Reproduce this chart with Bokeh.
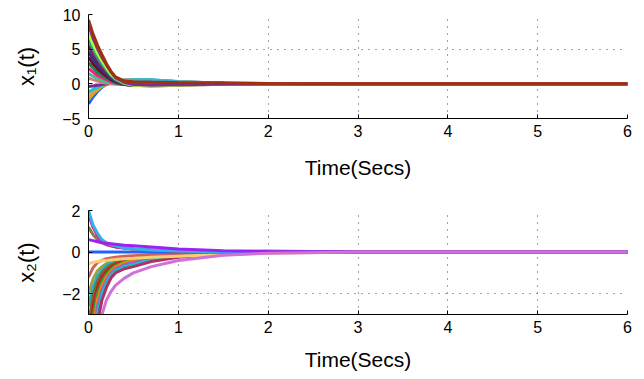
from bokeh.plotting import figure
from bokeh.layouts import column
from bokeh.models import Range1d, FixedTicker
from bokeh.embed import file_html
from bokeh.resources import INLINE

# time samples (s)
t = [0, 0.05, 0.1, 0.15, 0.2, 0.25, 0.3, 0.4, 0.5, 0.7, 1.0, 1.5, 2.0, 3.0, 6.0]

# x1(t) trajectories
x1_blue   = [-2.9, -1.9, -1.1, -0.5, -0.1, 0.15, 0.35, 0.55, 0.6, 0.55, 0.35, 0.1, 0.05, 0, 0]
x1_ochre  = [-2.3, -1.5, -0.9, -0.4, -0.1, 0.15, 0.3, 0.5, 0.55, 0.5, 0.3, 0.1, 0.05, 0, 0]
x1_orange = [-1.8, -1.2, -0.7, -0.3, 0.0, 0.2, 0.35, 0.5, 0.55, 0.5, 0.3, 0.1, 0.05, 0, 0]
x1_cyan   = [-1.2, -0.8, -0.5, -0.2, 0.0, 0.2, 0.3, 0.45, 0.6, 0.6, 0.3, 0.1, 0.05, 0, 0]
x1_violet = [-0.4, -0.3, -0.2, -0.1, 0.0, 0.05, 0.1, 0.1, 0.1, 0.05, 0, 0, 0, 0, 0]
x1_salmon = [0.8, 0.6, 0.4, 0.2, 0.1, 0.0, -0.05, -0.1, -0.1, -0.1, -0.05, 0, 0, 0, 0]
x1_mint   = [1.5, 1.1, 0.8, 0.5, 0.3, 0.2, 0.05, -0.1, -0.15, -0.15, -0.05, 0, 0, 0, 0]
x1_pink   = [2.2, 1.7, 1.2, 0.9, 0.6, 0.3, 0.1, -0.1, -0.2, -0.2, -0.1, 0, 0, 0, 0]
x1_green  = [3.0, 2.3, 1.7, 1.2, 0.8, 0.5, 0.2, -0.1, -0.2, -0.2, -0.1, 0, 0, 0, 0]
x1_maroon = [3.8, 2.9, 2.2, 1.6, 1.1, 0.6, 0.3, -0.1, -0.2, -0.2, -0.1, 0, 0, 0, 0]
x1_navy   = [4.6, 3.6, 2.7, 2.0, 1.4, 0.8, 0.4, -0.05, -0.2, -0.25, -0.15, 0, 0, 0, 0]
x1_plum   = [5.5, 4.3, 3.3, 2.4, 1.7, 1.0, 0.5, 0.0, -0.2, -0.3, -0.2, -0.05, 0, 0, 0]
x1_teal   = [6.4, 5.0, 3.8, 2.8, 2.0, 1.2, 0.6, 0.0, -0.2, -0.25, -0.15, 0, 0, 0, 0]
x1_lime   = [7.3, 5.7, 4.4, 3.3, 2.3, 1.4, 0.8, 0.1, -0.2, -0.3, -0.2, -0.05, 0, 0, 0]
x1_purple = [8.5, 6.6, 5.1, 3.8, 2.7, 1.7, 0.9, 0.2, -0.1, -0.2, -0.15, -0.05, 0, 0, 0]
x1_brown  = [9.2, 7.2, 5.6, 4.2, 2.9, 1.8, 1.0, 0.4, 0.3, 0.25, 0.2, 0.15, 0.05, 0, 0]

x1_series = [x1_blue, x1_ochre, x1_orange, x1_cyan, x1_violet, x1_salmon, x1_mint,
             x1_pink, x1_green, x1_maroon, x1_navy, x1_plum, x1_teal, x1_lime,
             x1_purple, x1_brown]
x1_colors = ["#1060ff", "#c8a040", "#f0a020", "#20c0e0", "#7b2d8e", "#d08070", "#40c090",
             "#ff1493", "#1a8a3a", "#6a0d2a", "#303090", "#8b1a4a", "#2a9d8f", "#b0ff30",
             "#7e2f8e", "#a0300e"]

# x2(t) trajectories
x2_olive1  = [-2.0, -1.3, -0.9, -0.7, -0.55, -0.45, -0.38, -0.28, -0.22, -0.15, -0.08, -0.03, 0, 0, 0]
x2_teal    = [-2.6, -1.7, -1.15, -0.85, -0.65, -0.52, -0.43, -0.32, -0.25, -0.17, -0.09, -0.03, 0, 0, 0]
x2_olive2  = [-3.5, -2.1, -1.4, -1.0, -0.78, -0.62, -0.5, -0.37, -0.29, -0.19, -0.1, -0.03, 0, 0, 0]
x2_red     = [-4.5, -2.6, -1.7, -1.2, -0.92, -0.72, -0.58, -0.42, -0.33, -0.21, -0.11, -0.04, 0, 0, 0]
x2_green   = [-5.5, -3.1, -2.0, -1.4, -1.05, -0.82, -0.65, -0.47, -0.37, -0.24, -0.13, -0.04, 0, 0, 0]
x2_orange  = [-6.5, -3.6, -2.3, -1.6, -1.2, -0.92, -0.72, -0.52, -0.41, -0.26, -0.14, -0.05, 0, 0, 0]
x2_lilac   = [-7.5, -4.2, -2.6, -1.8, -1.35, -1.02, -0.8, -0.6, -0.5, -0.32, -0.17, -0.05, 0, 0, 0]
x2_aqua    = [-8.5, -4.8, -3.0, -2.05, -1.5, -1.13, -0.9, -0.7, -0.6, -0.38, -0.2, -0.06, 0, 0, 0]
x2_magenta = [-9.5, -5.4, -3.4, -2.3, -1.7, -1.25, -1.0, -0.8, -0.7, -0.45, -0.25, -0.08, 0, 0, 0]
x2_salmon  = [-1.2, -0.75, -0.5, -0.4, -0.32, -0.28, -0.25, -0.2, -0.17, -0.12, -0.07, -0.02, 0, 0, 0]
x2_yellow  = [-0.55, -0.5, -0.45, -0.42, -0.4, -0.38, -0.36, -0.32, -0.3, -0.25, -0.2, -0.12, -0.05, 0, 0]
x2_blue    = [0, 0, 0, 0, 0, 0, 0, 0, 0, 0, 0, 0, 0, 0, 0]
x2_brown   = [1.2, 0.85, 0.6, 0.45, 0.35, 0.3, 0.25, 0.2, 0.15, 0.1, 0.05, 0.02, 0.05, 0, 0]
x2_pink    = [1.8, 1.2, 0.8, 0.55, 0.4, 0.3, 0.25, 0.2, 0.15, 0.1, 0.05, 0, 0, 0, 0]
x2_sky     = [2.0, 1.3, 0.9, 0.6, 0.45, 0.35, 0.3, 0.2, 0.15, 0.1, 0.05, 0, 0, 0, 0]
x2_purple  = [0.6, 0.55, 0.5, 0.45, 0.42, 0.4, 0.38, 0.33, 0.3, 0.24, 0.15, 0.07, 0.03, 0, 0]
x2_orchid  = [-11, -7, -4.6, -3.0, -2.3, -1.9, -1.6, -1.25, -1.0, -0.7, -0.4, -0.15, -0.05, 0, 0]

x2_series = [x2_olive1, x2_teal, x2_olive2, x2_red, x2_green, x2_orange, x2_lilac, x2_aqua,
             x2_magenta, x2_salmon, x2_yellow, x2_blue, x2_brown, x2_pink, x2_sky,
             x2_purple, x2_orchid]
x2_colors = ["#a0a040", "#20b0c0", "#7a6a3a", "#c81e1e", "#2ca02c", "#ff7f0e", "#9467bd",
             "#17becf", "#b03060", "#d06060", "#f8d070", "#1e64ff", "#8a7a4a", "#f01478",
             "#30b0f0", "#a020f0", "#d070d8"]

x_ticks = [0, 1, 2, 3, 4, 5, 6]
y1_ticks = [-5, 0, 5, 10]
y2_ticks = [-2, 0, 2]

FONT = "Liberation Sans"


def make_fig(ylo, yhi, yticks, ylabel, top_border, bottom_border, height, xlabel_standoff):
    p = figure(width=644, height=height, output_backend="svg", toolbar_location=None,
               x_range=Range1d(0, 6), y_range=Range1d(ylo, yhi),
               min_border_left=88, min_border_right=17,
               min_border_top=top_border, min_border_bottom=bottom_border)
    p.outline_line_color = None
    p.background_fill_color = "white"
    p.border_fill_color = "white"
    p.xaxis.ticker = FixedTicker(ticks=x_ticks)
    p.yaxis.ticker = FixedTicker(ticks=yticks)
    p.yaxis.major_label_overrides = {v: (("\u2212" + str(-v)) if v < 0 else str(v)) for v in yticks}
    for ax in (p.xaxis, p.yaxis):
        ax.axis_line_color = "black"
        ax.major_tick_line_color = "black"
        ax.major_tick_in = 4
        ax.major_tick_out = 0
        ax.minor_tick_line_color = None
        ax.major_label_text_font = FONT
        ax.major_label_text_font_size = "16px"
        ax.major_label_text_color = "black"
        ax.axis_label_text_font = FONT
        ax.axis_label_text_font_style = "normal"
        ax.axis_label_text_color = "black"
    p.xaxis.axis_label = "Time(Secs)"
    p.xaxis.axis_label_text_font_size = "21px"
    p.xaxis.major_label_standoff = 6
    p.xaxis.axis_label_standoff = xlabel_standoff
    p.yaxis.axis_label = ylabel
    p.yaxis.axis_label_text_font_size = "22px"
    p.yaxis.major_label_standoff = 8
    p.yaxis.axis_label_standoff = 20
    for g in (p.xgrid, p.ygrid):
        g.grid_line_color = "#444444"
        g.grid_line_dash = "1 6"
        g.grid_line_width = 1
    return p


p1 = make_fig(-5, 10, y1_ticks, "x\u2081(t)", 14, 72, 190, 16)
for ys, c in zip(x1_series, x1_colors):
    p1.line(t, ys, line_color=c, line_width=3)

p2 = make_fig(-3, 2, y2_ticks, "x\u2082(t)", 20, 65, 189, 12)
for ys, c in zip(x2_series, x2_colors):
    p2.line(t, ys, line_color=c, line_width=3)

layout = column(p1, p2, spacing=0)
open("out.html", "w").write(file_html(layout, INLINE))
